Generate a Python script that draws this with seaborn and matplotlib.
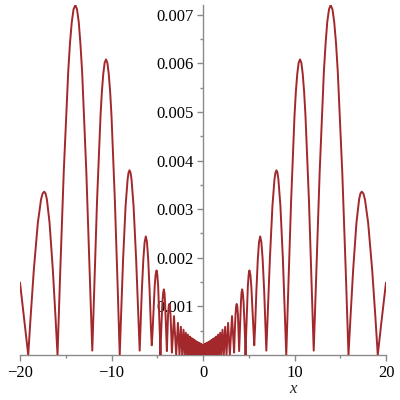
import matplotlib
matplotlib.use("Agg")
import matplotlib.pyplot as plt
import seaborn as sns

# right half of the curve (x >= 0); y in units of 1e-3
x_right = [
    0.0, 0.04, 0.08, 0.12, 0.16, 0.2, 0.24, 0.28, 0.33, 0.38, 0.43, 0.48,
    0.54, 0.6, 0.66, 0.72, 0.79, 0.86, 0.93, 1.0, 1.08, 1.16, 1.25, 1.34,
    1.44, 1.54, 1.65, 1.76, 1.88, 2.0, 2.13, 2.27, 2.42, 2.57, 2.74, 2.93,
    3.17,
    3.4, 3.47, 3.55, 3.62, 3.68, 3.75, 3.82, 3.89,
    3.95, 4.0, 4.07, 4.15, 4.21, 4.28, 4.35, 4.43, 4.52, 4.6,
    4.65, 4.71, 4.8, 4.9, 4.99, 5.07, 5.18, 5.28, 5.41, 5.52,
    5.6, 5.7, 5.83, 5.99, 6.12, 6.25, 6.38, 6.52, 6.69, 6.82,
    6.92, 7.09, 7.31, 7.59, 7.81, 7.92, 8.03, 8.14, 8.24, 8.46, 8.73, 8.94,
    9.1, 9.33, 9.63, 10.0, 10.15, 10.3, 10.45, 10.6, 10.75, 10.9, 11.05,
    11.2, 11.58, 11.88,
    12.1, 12.38, 12.75, 13.21, 13.4, 13.58, 13.77, 13.95, 14.15, 14.34,
    14.54, 14.73, 15.22, 15.61,
    15.9, 16.12, 16.41, 16.77, 17.06, 17.2, 17.35, 17.53, 17.7, 18.05,
    18.49, 18.84,
    19.1, 19.3, 19.5, 19.75, 20.0,
]
y_right_milli = [
    0.20, 0.0, 0.21, 0.0, 0.22, 0.0, 0.23, 0.0, 0.24, 0.0, 0.25, 0.0,
    0.26, 0.0, 0.27, 0.0, 0.29, 0.0, 0.31, 0.0, 0.33, 0.0, 0.35, 0.0,
    0.38, 0.0, 0.42, 0.0, 0.46, 0.0, 0.52, 0.0, 0.58, 0.0, 0.66, 0.0,
    0.80,
    0.05, 0.45, 0.82, 1.0, 1.05, 1.0, 0.82, 0.45,
    0.08, 0.35, 0.72, 1.1, 1.28, 1.35, 1.28, 1.1, 0.72, 0.32,
    0.0, 0.4, 0.91, 1.41, 1.65, 1.74, 1.65, 1.41, 0.91, 0.45,
    0.2, 0.6, 1.3, 1.97, 2.32, 2.44, 2.32, 1.97, 1.3, 0.6,
    0.09, 0.89, 1.98, 3.07, 3.61, 3.75, 3.8, 3.75, 3.61, 3.07, 1.98, 0.89,
    0.0, 1.42, 3.17, 4.92, 5.42, 5.78, 6.01, 6.08, 6.01, 5.78, 5.42,
    4.92, 3.17, 1.42,
    0.09, 1.68, 3.76, 5.83, 6.41, 6.85, 7.11, 7.2, 7.11, 6.85,
    6.41, 5.83, 3.76, 1.68,
    0.0, 0.78, 1.75, 2.72, 3.20, 3.32, 3.36, 3.32, 3.20, 2.72,
    1.75, 0.78,
    0.0, 0.35, 0.68, 1.08, 1.49,
]

x_ticks = [-20, -10, 0, 10, 20]
x_minor = [-15, -5, 5, 15]
y_ticks = [0.001, 0.002, 0.003, 0.004, 0.005, 0.006, 0.007]
y_tick_labels = ["0.001", "0.002", "0.003", "0.004", "0.005", "0.006", "0.007"]
y_minor = [0.0005, 0.0015, 0.0025, 0.0035, 0.0045, 0.0055, 0.0065]

# the curve is symmetric, so mirror the right half
xs = [-v for v in reversed(x_right[1:])] + x_right
ys = [v * 1e-3 for v in list(reversed(y_right_milli[1:])) + y_right_milli]

sns.set_theme(style="white")
plt.rcParams["font.family"] = ["Liberation Serif", "DejaVu Serif"]

fig = plt.figure(figsize=(4, 4), dpi=100)
ax = fig.add_axes([0.05, 0.1125, 0.915, 0.875])

sns.lineplot(x=xs, y=ys, sort=False, estimator=None, color="#a2282c",
             linewidth=1.4, ax=ax, zorder=3)

ax.set_xlim(-20, 20)
ax.set_ylim(0, 0.0072)

for side in ["top", "right"]:
    ax.spines[side].set_visible(False)
ax.spines["left"].set_position(("data", 0))
for side in ["left", "bottom"]:
    ax.spines[side].set_color("#8a8a8a")
    ax.spines[side].set_linewidth(1.0)

ax.set_xticks(x_ticks, labels=[str(v).replace("-", "\u2212") for v in x_ticks])
ax.set_xticks(x_minor, minor=True)
ax.set_yticks(y_ticks, labels=y_tick_labels)
ax.set_yticks(y_minor, minor=True)
ax.tick_params(axis="both", which="major", length=4, width=1, color="#8a8a8a",
               labelsize=12, labelcolor="black", direction="out", pad=3)
ax.tick_params(axis="both", which="minor", length=2.5, width=1, color="#8a8a8a",
               direction="out")
ax.tick_params(axis="x", bottom=True, which="both")
ax.tick_params(axis="y", left=True, which="both")

ax.set_xlabel("x", fontsize=12, fontstyle="italic")
ax.xaxis.set_label_coords(0.746, -0.075)
ax.set_ylabel("")
ax.grid(False)

fig.savefig("out.png", dpi=100)
